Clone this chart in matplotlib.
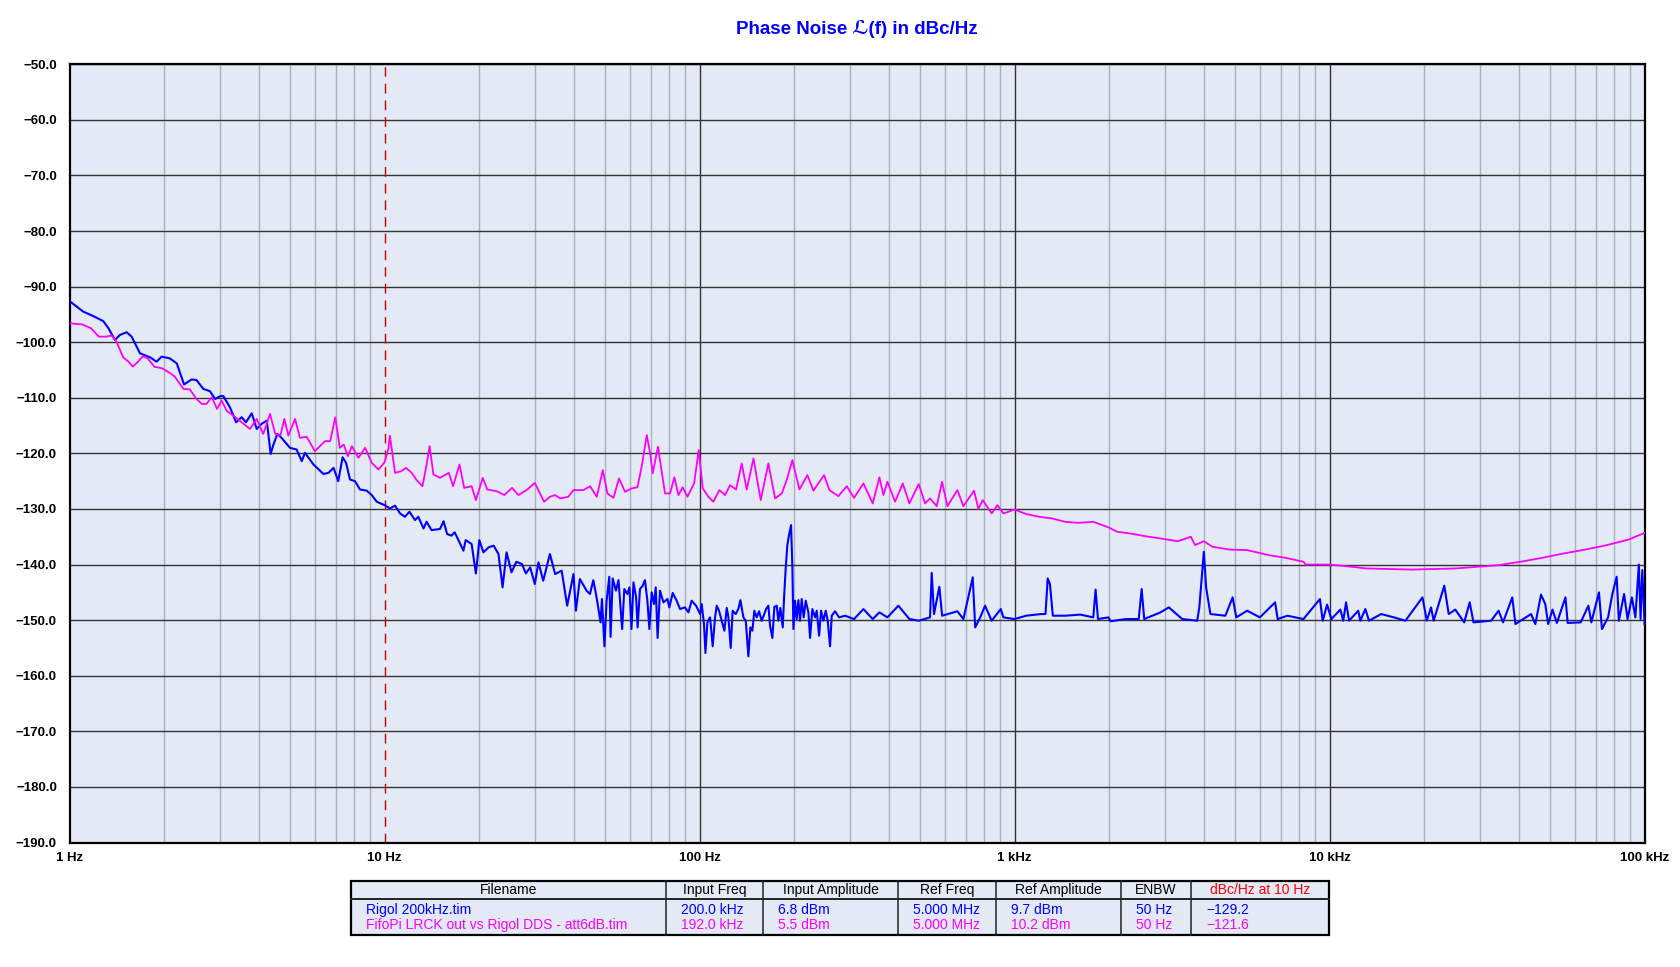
import matplotlib
matplotlib.use("Agg")
import matplotlib.pyplot as plt
from matplotlib.ticker import LogLocator, FixedLocator, NullFormatter, FuncFormatter
from matplotlib.patches import Rectangle

# trace 1: Rigol 200kHz.tim (blue)
blue_f = [1.0, 1.106, 1.19, 1.28, 1.33, 1.394, 1.445, 1.519, 1.575, 1.674, 1.80, 1.89, 1.96, 2.08, 2.19,
          2.31, 2.44, 2.53, 2.66, 2.79, 2.90, 3.01, 3.08, 3.23, 3.38, 3.52, 3.63, 3.79, 3.93, 4.07, 4.23,
          4.35, 4.44, 4.57, 4.71, 5.01, 5.26, 5.46, 5.59, 5.95, 6.40, 6.64, 6.89, 7.13, 7.36, 7.55, 7.77,
          8.06, 8.36, 8.78, 9.11, 9.45, 10.0, 10.4, 10.8, 11.2, 11.6, 12.0, 12.5, 12.8, 13.3, 13.6, 14.1,
          15.0, 15.4, 15.8, 16.3, 16.7, 17.3, 17.8, 18.1, 18.9, 19.5, 20.0, 20.6, 21.4, 22.2, 23.0, 23.7,
          24.4, 25.3, 26.2, 27.3, 28.1, 29.0, 30.0, 30.8, 31.9, 33.5, 34.8, 36.5, 38.0, 39.8, 40.5, 41.7,
          43.8, 44.9, 46.0, 46.9, 47.4, 48.5, 49.0, 49.9, 50.7, 51.7, 52.2, 53.0, 54.3, 55.3, 56.8, 57.7,
          59.0, 59.9, 60.8, 61.7, 62.9, 63.6, 64.7, 66.0, 67.1, 68.3, 69.3, 70.5, 71.7, 72.6, 73.6, 74.9,
          76.8, 79.1, 80.2, 82.2, 84.6, 86.7, 89.9, 92.2, 94.4, 97.5, 100.4, 101.6, 103.3, 104.4, 105.9,
          108.0, 110.1, 112.0, 113.4, 115.3, 117.6, 119.9, 122.0, 123.5, 125.6, 127.4, 130.3, 132.8,
          134.8, 137.8, 140.2, 141.5, 142.9, 145.0, 147.1, 149.3, 151.9, 154.5, 157.5, 160.3, 162.6,
          165.4, 167.4, 170.3, 172.8, 175.8, 177.9, 180.5, 183.7, 185.5, 187.7, 190.0, 192.3, 195.2,
          197.1, 198.6, 201.0, 203.5, 206.0, 208.5, 211.0, 214.1, 217.3, 221.6, 224.3, 228.1, 232.7,
          235.5, 239.6, 243.1, 247.3, 251.5, 255.2, 259.6, 262.8, 269.2, 277.2, 289.6, 309.4, 331.3,
          354.6, 372.4, 394.8, 427.7, 463.6, 496.3, 539.1, 545.8,
          555, 577, 589, 658.3, 688.0, 736.6, 750, 778, 806, 846, 904, 921.7, 1000, 1088, 1215, 1254,
          1274, 1295, 1323, 1447, 1616, 1778, 1808, 1840, 1986, 2017, 2254, 2478, 2532, 2580, 2905,
          3089, 3405, 3800, 3859, 3989, 4056, 4185, 4668, 4924, 5057, 5474, 6009, 6714, 6843, 7350,
          8263, 9318, 9510, 9820, 10130, 10820, 11050, 11280, 11530, 12330, 12520, 12990, 13340,
          14580, 16010, 17410, 19720, 20350, 20990, 21400, 23130, 23890, 25070, 26750, 27850, 28630,
          32550, 34410, 35530, 38020, 38900, 43610, 44990, 46900, 48380, 49420, 51010, 52660, 56080,
          56990, 62670, 66310, 67760, 71640, 73220, 76570, 79010, 81540, 82850, 86070, 88280, 91130,
          93470, 95880, 97100, 98330, 100000]
blue_db = [-92.6, -94.5, -95.3, -96.2, -97.5, -99.6, -98.7, -98.2, -99.0, -102.0, -102.7, -103.5, -102.6,
           -102.9, -103.8, -107.6, -106.7, -106.8, -108.4, -108.8, -110.2, -109.7, -109.7, -111.7, -114.4,
           -113.5, -114.4, -112.8, -115.6, -114.7, -114.1, -120.1, -118.4, -116.5, -117.2, -119.0, -119.3,
           -121.4, -119.9, -122.0, -123.7, -123.5, -122.6, -125.0, -120.7, -121.7, -124.7, -125.0, -126.5,
           -126.7, -127.5, -128.7, -129.3, -129.9, -129.4, -130.8, -131.4, -130.5, -132.0, -131.4, -133.5,
           -132.3, -133.8, -133.6, -132.2, -134.5, -134.8, -134.2, -136.0, -137.5, -135.6, -136.3, -141.6,
           -135.6, -137.8, -136.9, -136.6, -138.1, -144.1, -137.8, -141.4, -139.5, -139.9, -141.6, -140.5,
           -143.5, -139.6, -142.9, -138.1, -141.7, -141.1, -147.4, -141.7, -148.3, -142.6, -144.7,
           -145.3, -142.8, -145.3, -146.8, -150.4, -146.2, -154.7, -146.5, -142.2, -153.0, -142.5, -144.7,
           -142.8, -151.6, -144.4, -145.3, -144.1, -151.6, -143.2, -145.9, -151.3, -144.4, -143.8, -142.8,
           -146.5, -151.6, -145.0, -147.1, -144.1, -153.2, -144.7, -146.8, -146.2, -147.7, -145.1, -146.5,
           -148.0, -147.7, -148.6, -146.5, -147.4, -148.9, -147.1, -150.7, -155.9, -150.4, -149.5, -154.7,
           -149.5, -147.4, -148.3, -150.1, -151.9, -147.8, -149.5, -155.0, -148.3, -148.9, -148.0, -146.4,
           -149.5, -150.1, -153.2, -156.5, -151.3, -151.9, -148.3, -149.5, -148.4, -150.1, -149.0, -148.0,
           -147.4, -151.0, -153.2, -147.6, -147.4, -150.1, -147.8, -151.3, -145.9, -140.7, -136.5, -134.7,
           -132.9, -140.4, -151.6, -146.5, -149.8, -146.4, -150.1, -146.2, -149.5, -146.5, -148.6, -153.2,
           -148.0, -149.5, -148.3, -152.8, -148.3, -150.1, -148.3, -150.1, -154.7, -149.2, -148.4, -149.5,
           -149.2, -149.8, -148.0, -149.8, -148.6, -149.5, -147.4, -149.8, -150.1, -149.5, -141.5,
           -148.9, -144.0, -149.2, -148.4,
           -149.8, -142.3, -151.3, -149.5, -147.4, -150.1, -148.0, -149.5, -149.8, -149.2, -148.9, -148.9,
           -142.5, -143.5, -149.2, -149.2, -149.0, -149.5, -144.5, -149.8, -149.5, -150.2, -149.8, -149.8,
           -144.4, -149.8, -148.6, -147.7, -149.8, -150.1, -147.7, -137.7, -144.1, -148.9, -149.2, -145.9,
           -149.5, -148.3, -149.5, -146.8, -149.8, -149.2, -149.8, -146.2, -150.1, -147.2, -149.8, -148.1,
           -150.1, -146.8, -150.1, -148.3, -150.1, -148.0, -150.1, -148.9, -149.5, -150.1, -145.9, -150.1,
           -147.7, -150.1, -143.8, -148.9, -148.1, -150.4, -146.8, -150.4, -150.1, -148.3, -150.4, -145.9,
           -150.7, -148.9, -150.7, -145.4, -147.1, -150.7, -148.1, -150.5, -145.9, -150.5, -150.4, -147.4,
           -150.4, -145.0, -151.6, -149.5, -145.3, -142.2, -150.1, -145.3, -149.8, -145.9, -149.5, -140.0,
           -149.8, -141.0, -150.7]

# trace 2: FifoPi LRCK out vs Rigol DDS (magenta)
mag_f = [1.0, 1.10, 1.17, 1.24, 1.31, 1.36, 1.41, 1.48, 1.54, 1.59, 1.65, 1.71, 1.77, 1.86, 1.97, 2.08,
         2.16, 2.30, 2.41, 2.53, 2.63, 2.72, 2.83, 2.94, 3.04, 3.16, 3.31, 3.52, 3.74, 3.93, 4.12, 4.33,
         4.50, 4.67, 4.81, 4.95, 5.20, 5.39, 5.66, 6.01, 6.47, 6.72, 6.98, 7.21, 7.42, 7.65, 7.88, 8.26,
         8.68, 9.11, 9.57, 10.0, 10.3, 10.4, 10.8, 11.3, 11.7, 12.2, 12.6, 13.2, 13.6, 13.9, 14.3, 15.0,
         16.0, 16.5, 17.3, 17.9, 18.9, 19.5, 20.5, 21.2, 22.7, 24.0, 25.4, 26.6, 28.4, 30.0, 32.1, 33.5,
         34.8, 36.1, 38.3, 39.8, 42.8, 44.9, 47.2, 49.3, 51.0, 53.3, 55.5, 58.0, 60.9, 63.5, 65.5, 68.0,
         69.7, 71.0, 73.8, 77.7, 80.6, 83.2, 85.7, 88.4, 91.5, 96.1, 99.4, 102.4, 106.7, 110.6, 115.6,
         120.5, 125.0, 130.6, 136.1, 141.2, 148.3, 156.4, 165.4, 173.7, 182.4, 189.1, 197.1, 207.5,
         220.0, 229.8, 248.5, 258.4, 275.9, 293.3, 309.4, 331.3, 354.6, 372.4, 383.4, 394.8, 417.6,
         441.6, 463.6, 496.3, 519.8, 539.1, 566.1, 588.6, 612.1, 658.3, 688.0, 743.7, 767.7, 792.4,
         846.3, 882.1, 921.7, 1000, 1088, 1196, 1316, 1447, 1591, 1778, 1986, 2115, 2326, 2600, 2905,
         3297, 3628, 3742, 3989, 4248, 4822, 5474, 6411, 7278, 8263, 8394, 10000, 11350, 13090, 15590,
         18270, 21400, 25070, 29370, 34410, 40310, 47220, 55330, 64820, 75940, 88970, 100000]
mag_db = [-96.6, -96.8, -97.5, -99.0, -99.0, -98.8, -99.9, -102.7, -103.5, -104.4, -103.5, -102.5, -102.9,
          -104.4, -104.7, -105.5, -106.2, -108.4, -108.5, -110.2, -111.1, -111.1, -109.9, -112.0, -110.5,
          -112.4, -113.2, -114.4, -115.6, -113.8, -116.5, -112.9, -116.5, -116.8, -113.8, -116.8, -113.8,
          -117.2, -117.0, -119.6, -117.8, -117.8, -113.5, -119.0, -118.4, -120.5, -118.7, -120.8, -119.0,
          -121.7, -122.9, -121.6, -119.0, -116.8, -123.5, -123.2, -122.6, -123.5, -124.7, -125.9, -122.0,
          -118.7, -123.8, -124.4, -123.5, -125.9, -122.0, -126.2, -125.9, -128.4, -124.4, -126.5, -126.8,
          -127.5, -126.2, -127.5, -126.5, -125.3, -128.7, -127.8, -127.5, -128.1, -127.8, -126.6, -126.6,
          -125.9, -127.8, -123.0, -127.2, -128.0, -124.5, -126.9, -126.3, -126.1, -122.4, -116.7, -120.0,
          -123.6, -118.8, -127.2, -127.2, -124.3, -127.5, -126.1, -127.8, -125.4, -119.4, -126.3, -127.8,
          -128.7, -126.6, -127.5, -125.7, -126.5, -121.8, -126.5, -120.9, -128.4, -121.8, -128.1, -127.2,
          -124.8, -121.2, -126.5, -123.9, -126.7, -123.9, -126.6, -127.7, -125.9, -128.0, -125.4, -129.0,
          -124.3, -127.5, -125.1, -128.7, -125.4, -129.0, -125.5, -129.0, -128.1, -129.5, -125.1, -129.5,
          -126.6, -129.5, -126.7, -130.0, -128.4, -130.8, -129.3, -130.8, -130.1, -130.9, -131.4, -131.7,
          -132.3, -132.5, -132.3, -133.3, -134.1, -134.4, -134.9, -135.3, -135.8, -135.0, -136.5, -135.8,
          -136.8, -137.3, -137.4, -138.3, -138.8, -139.5, -140.0, -140.0, -140.3, -140.7, -140.8, -140.9,
          -140.8, -140.7, -140.4, -140.1, -139.5, -138.8, -138.0, -137.3, -136.5, -135.5, -134.3]

decades = [1, 10, 100, 1000, 10000, 100000]
decade_labels = ["1 Hz", "10 Hz", "100 Hz", "1 kHz", "10 kHz", "100 kHz"]
y_ticks = list(range(-190, -49, 10))

headers = ["Filename", "Input Freq", "Input Amplitude", "Ref Freq", "Ref Amplitude", "ENBW", "dBc/Hz at 10 Hz"]
row_blue = ["Rigol 200kHz.tim", "200.0 kHz", "6.8 dBm", "5.000 MHz", "9.7 dBm", "50 Hz", "\u2212129.2"]
row_mag = ["FifoPi LRCK out vs Rigol DDS - att6dB.tim", "192.0 kHz", "5.5 dBm", "5.000 MHz", "10.2 dBm",
           "50 Hz", "\u2212121.6"]

FONT = ["Liberation Sans", "DejaVu Sans"]
BG = "#e3e9f5"
BLUE = "#0000ff"
MAG = "#ff00ff"

W, H = 1680, 967
fig = plt.figure(figsize=(W / 100, H / 100), dpi=100)
ax = fig.add_axes([69.5 / W, 1 - 842.5 / H, (1644.6 - 69.5) / W, (842.5 - 64.3) / H])
ax.set_facecolor(BG)
ax.set_xscale("log")
ax.set_xlim(1, 100000)
ax.set_ylim(-190, -50)

ax.xaxis.set_major_locator(FixedLocator(decades))
ax.xaxis.set_minor_locator(LogLocator(base=10, subs=range(2, 10)))
ax.xaxis.set_minor_formatter(NullFormatter())
ax.set_xticklabels(decade_labels)
ax.set_yticks(y_ticks)
ax.yaxis.set_major_formatter(FuncFormatter(lambda v, p: f"{v:.1f}".replace("-", "\u2212")))
ax.tick_params(which="both", length=0)
ax.tick_params(axis="x", pad=7)
ax.tick_params(axis="y", pad=9)
for lab in ax.get_xticklabels() + ax.get_yticklabels():
    lab.set_family(FONT)
    lab.set_fontweight("bold")
    lab.set_fontsize(9.5)

ax.set_axisbelow(True)
ax.grid(which="minor", axis="x", color="#aab2be", lw=1.0)
ax.grid(which="major", axis="y", color="#333333", lw=1.0)
for d in decades[2:-1]:
    ax.axvline(d, color="#333333", lw=1.0, zorder=0.8)
ax.axvline(10, color="#cc0000", lw=1.0, ls=(0, (7, 5)), zorder=1)

for s in ax.spines.values():
    s.set_linewidth(1.6)
    s.set_color("black")

ax.plot(blue_f, blue_db, color=BLUE, lw=1.5, zorder=3)
ax.plot(mag_f, mag_db, color=MAG, lw=1.3, zorder=3)

fig.text(857 / W, 1 - 29 / H, "Phase Noise \u2112(f) in dBc/Hz", ha="center", va="center",
         color=BLUE, fontsize=13.5, fontweight="bold", family=FONT)

# table under the plot, in pixel units
tab = fig.add_axes([0, 0, 1, 1])
tab.set_xlim(0, W)
tab.set_ylim(H, 0)
tab.axis("off")
edges = [351, 666, 763, 898, 996, 1121, 1191, 1329]
top, mid, bot = 881, 899, 935
tab.add_patch(Rectangle((edges[0], top), edges[-1] - edges[0], bot - top, facecolor=BG,
                        edgecolor="black", lw=1.6, zorder=1))
tab.plot([edges[0], edges[-1]], [mid, mid], color="#222222", lw=1.4, zorder=2)
for e in edges[1:-1]:
    tab.plot([e, e], [top, bot], color="#222222", lw=1.1, zorder=2)
for i, h in enumerate(headers):
    tab.text((edges[i] + edges[i + 1]) / 2, 890, h, ha="center", va="center", fontsize=10,
             color="red" if i == len(headers) - 1 else "black", family=FONT)
for row, y, c in [(row_blue, 910, BLUE), (row_mag, 925, MAG)]:
    for i, t in enumerate(row):
        tab.text(edges[i] + 15, y, t, ha="left", va="center", fontsize=10, color=c, family=FONT)

fig.savefig("out.png", dpi=100, facecolor="white")
